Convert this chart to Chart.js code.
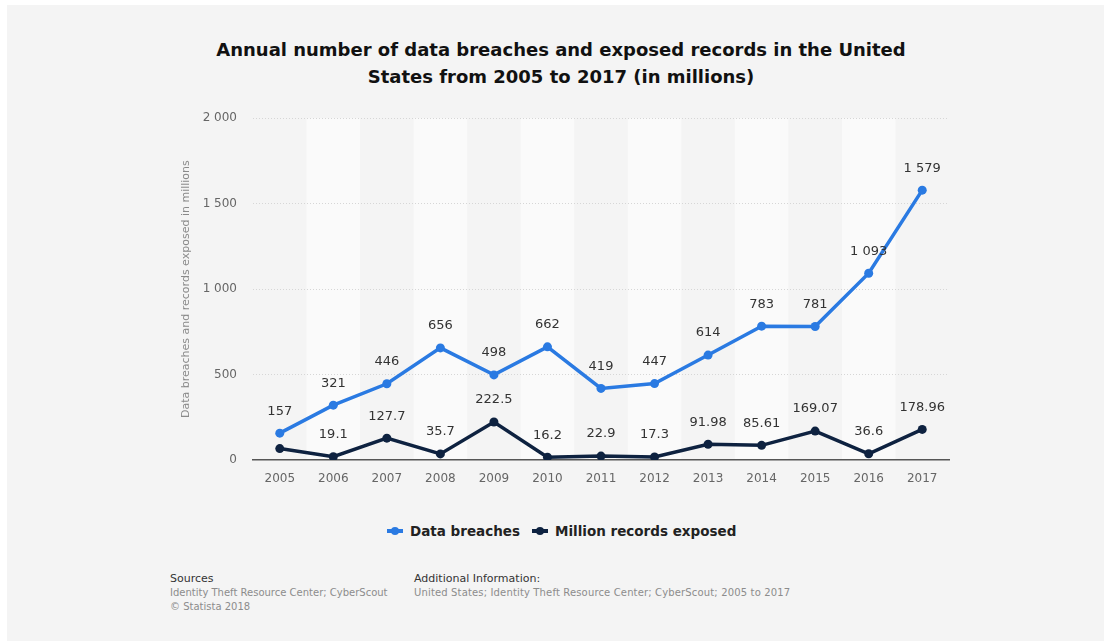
<!DOCTYPE html>
<html>
<head>
<meta charset="utf-8">
<script src="https://cdn.jsdelivr.net/npm/chart.js@4"></script>
<style>
    html, body {
        margin: 0;
        padding: 0;
        width: 1104px;
        height: 641px;
        background: #ffffff;
        overflow: hidden;
        font-family: "DejaVu Sans", sans-serif;
    }
    .panel {
        position: absolute;
        left: 7px;
        top: 5px;
        width: 1097px;
        height: 636px;
        background: #f4f4f4;
    }
    .title {
        position: absolute;
        left: 0;
        top: 36px;
        width: 1122px;
        text-align: center;
        font-weight: bold;
        font-size: 18px;
        line-height: 27px;
        color: #111111;
    }
    .chart-box {
        position: absolute;
        left: 170px;
        top: 95px;
        width: 800px;
        height: 396px;
    }
    .legend {
        position: absolute;
        top: 523px;
        left: 387px;
        display: flex;
        align-items: center;
        font-size: 13.5px;
        font-weight: bold;
        color: #222;
    }
    .legend-item {
        display: flex;
        align-items: center;
        margin-right: 12px;
    }
    .legend-mark {
        position: relative;
        width: 16px;
        height: 4px;
        margin-right: 7px;
    }
    .legend-mark::after {
        content: "";
        position: absolute;
        left: 4px;
        top: -2px;
        width: 8px;
        height: 8px;
        border-radius: 50%;
        background: inherit;
    }
    .footer {
        position: absolute;
        top: 571px;
        font-size: 10px;
        line-height: 13.5px;
        color: #8c8c8c;
    }
    .footer .head {
        font-size: 11px;
        line-height: 15px;
        color: #333;
    }
</style>
</head>
<body>
<div class="panel"></div>
<div class="title">Annual number of data breaches and exposed records in the United<br>States from 2005 to 2017 (in millions)</div>

<div class="chart-box"><canvas id="breachChart"></canvas></div>

<div class="legend">
    <div class="legend-item"><span class="legend-mark" style="background:#2a7ae2"></span>Data breaches</div>
    <div class="legend-item"><span class="legend-mark" style="background:#0e2240"></span>Million records exposed</div>
</div>

<div class="footer" style="left:170px">
    <div class="head">Sources</div>
    <div>Identity Theft Resource Center; CyberScout</div>
    <div>© Statista 2018</div>
</div>
<div class="footer" style="left:414px">
    <div class="head">Additional Information:</div>
    <div style="letter-spacing:0.15px">United States; Identity Theft Resource Center; CyberScout; 2005 to 2017</div>
</div>

<script>
// Chart data
const years = ['2005', '2006', '2007', '2008', '2009', '2010', '2011', '2012', '2013', '2014', '2015', '2016', '2017'];
const dataBreaches = [157, 321, 446, 656, 498, 662, 419, 447, 614, 783, 781, 1093, 1579];
const recordsExposed = [66.9, 19.1, 127.7, 35.7, 222.5, 16.2, 22.9, 17.3, 91.98, 85.61, 169.07, 36.6, 178.96];
const recordsHiddenLabels = [0]; // 2005 value has no label in the original
const yTicks = [0, 500, 1000, 1500, 2000];

const blue = '#2a7ae2';
const navy = '#0e2240';

// Format numbers with a space as thousands separator ("1 579")
function fmt(v) {
    const parts = String(v).split('.');
    parts[0] = parts[0].replace(/\B(?=(\d{3})+(?!\d))/g, ' ');
    return parts.join('.');
}

// Alternating vertical bands behind the plot
const bandPlugin = {
    id: 'bands',
    beforeDraw(chart) {
        const { ctx, chartArea, scales } = chart;
        const x = scales.x;
        const step = x.getPixelForValue(1) - x.getPixelForValue(0);
        ctx.save();
        years.forEach((y, i) => {
            if (i % 2 === 1) {
                const cx = x.getPixelForValue(i);
                ctx.fillStyle = '#fafafa';
                ctx.fillRect(cx - step / 2, chartArea.top, step, chartArea.bottom - chartArea.top);
            }
        });
        ctx.restore();
    }
};

// Value labels above each point
const labelPlugin = {
    id: 'valueLabels',
    afterDatasetsDraw(chart) {
        const { ctx } = chart;
        ctx.save();
        ctx.font = '13px "DejaVu Sans"';
        ctx.fillStyle = '#333333';
        ctx.textAlign = 'center';
        ctx.textBaseline = 'middle';
        chart.data.datasets.forEach((ds, di) => {
            const meta = chart.getDatasetMeta(di);
            meta.data.forEach((pt, i) => {
                if (di === 1 && recordsHiddenLabels.includes(i)) return;
                ctx.fillText(fmt(ds.data[i]), pt.x, pt.y - 22);
            });
        });
        ctx.restore();
    }
};

new Chart(document.getElementById('breachChart'), {
    type: 'line',
    data: {
        labels: years,
        datasets: [
            {
                label: 'Data breaches',
                data: dataBreaches,
                borderColor: blue,
                backgroundColor: blue,
                borderWidth: 3.5,
                pointRadius: 4.5,
                pointBorderWidth: 0,
                tension: 0
            },
            {
                label: 'Million records exposed',
                data: recordsExposed,
                borderColor: navy,
                backgroundColor: navy,
                borderWidth: 3.5,
                pointRadius: 4.5,
                pointBorderWidth: 0,
                tension: 0
            }
        ]
    },
    options: {
        responsive: true,
        maintainAspectRatio: false,
        animation: false,
        layout: {
            padding: { top: 13, right: 21, bottom: 0, left: 0 }
        },
        plugins: {
            legend: { display: false },
            tooltip: { enabled: false }
        },
        scales: {
            x: {
                offset: true,
                grid: { display: false, drawTicks: false },
                border: { display: true, color: '#555555', width: 1.5 },
                ticks: {
                    color: '#666666',
                    font: { family: 'DejaVu Sans', size: 12 },
                    padding: 12,
                    maxRotation: 0
                },
                afterFit(scale) { scale.height = 31; }
            },
            y: {
                min: 0,
                max: 2000,
                afterBuildTicks(scale) {
                    scale.ticks = yTicks.map(v => ({ value: v }));
                },
                grid: {
                    drawTicks: false,
                    color: ctx => ctx.tick && ctx.tick.value === 0 ? 'rgba(0,0,0,0)' : '#d6d6d6',
                    lineWidth: 1
                },
                border: { display: false, dash: [1, 2] },
                ticks: {
                    color: '#666666',
                    font: { family: 'DejaVu Sans', size: 12 },
                    padding: 16,
                    callback: v => fmt(v)
                },
                title: {
                    display: true,
                    text: 'Data breaches and records exposed in millions',
                    color: '#8a8a8a',
                    font: { family: 'DejaVu Sans', size: 11 },
                    padding: { top: 10, bottom: 0 }
                },
                afterFit(scale) { scale.width = 83; }
            }
        }
    },
    plugins: [bandPlugin, labelPlugin]
});
</script>
</body>
</html>
